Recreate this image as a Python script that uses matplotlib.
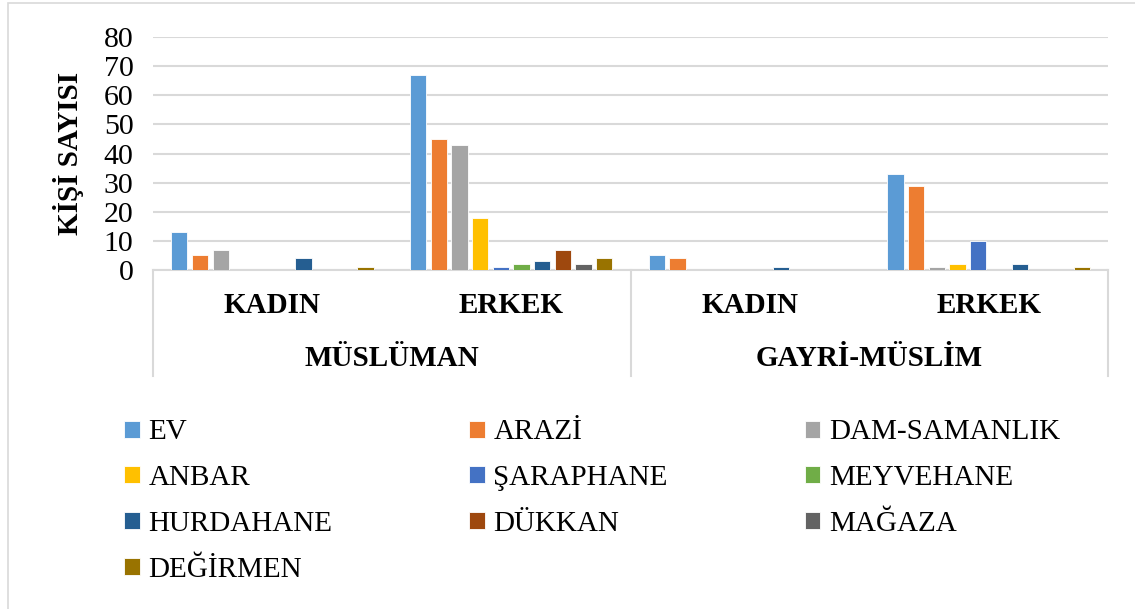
import matplotlib
matplotlib.use("Agg")
import matplotlib.pyplot as plt
import matplotlib.transforms as mtransforms
from matplotlib.patches import Rectangle
import numpy as np

plt.rcParams['font.family'] = ['Liberation Serif', 'DejaVu Serif']

series = ["EV", "ARAZİ", "DAM-SAMANLIK", "ANBAR", "ŞARAPHANE", "MEYVEHANE",
          "HURDAHANE", "DÜKKAN", "MAĞAZA", "DEĞİRMEN"]
colors = ["#5B9BD5", "#ED7D31", "#A5A5A5", "#FFC000", "#4472C4", "#70AD47",
          "#255E91", "#9E480E", "#636363", "#997300"]
genders = ["KADIN", "ERKEK", "KADIN", "ERKEK"]
religions = ["MÜSLÜMAN", "GAYRİ-MÜSLİM"]

# values per category (Müslüman Kadın, Müslüman Erkek, Gayri Kadın, Gayri Erkek)
EV = [13, 67, 5, 33]
ARAZI = [5, 45, 4, 29]
DAM_SAMANLIK = [7, 43, 0, 1]
ANBAR = [0, 18, 0, 2]
SARAPHANE = [0, 1, 0, 10]
MEYVEHANE = [0, 2, 0, 0]
HURDAHANE = [4, 3, 1, 2]
DUKKAN = [0, 7, 0, 0]
MAGAZA = [0, 2, 0, 0]
DEGIRMEN = [1, 4, 0, 1]
values = [EV, ARAZI, DAM_SAMANLIK, ANBAR, SARAPHANE, MEYVEHANE,
          HURDAHANE, DUKKAN, MAGAZA, DEGIRMEN]

fig = plt.figure(figsize=(11.35, 6.09), dpi=100)
W, H = 1135, 609
ax = fig.add_axes([153 / W, 1 - 270 / H, (1108 - 153) / W, (270 - 37) / H])

x = np.arange(len(genders))
n = len(series)
slot = 0.0866
bw = 0.068
for i, (name, vals, c) in enumerate(zip(series, values, colors)):
    ax.bar(x + (i - (n - 1) / 2) * slot, vals, width=bw, color=c,
           edgecolor="white", linewidth=0.6, label=name, zorder=3)

ax.set_xlim(-0.5, 3.5)
ax.set_ylim(0, 80)
ax.set_yticks(np.arange(0, 81, 10))
ax.yaxis.grid(True, color="#D9D9D9", linewidth=1.5, zorder=0)
ax.set_axisbelow(True)
for s in ["left", "right", "top"]:
    ax.spines[s].set_visible(False)
ax.spines["bottom"].set_color("#D9D9D9")
ax.spines["bottom"].set_linewidth(1.5)
ax.tick_params(axis="y", length=0, labelsize=21.5, pad=14)
ax.tick_params(axis="x", length=0)
ax.set_xticks(x)
ax.set_xticklabels(genders, fontsize=21, fontweight="bold")
ax.tick_params(axis="x", pad=16)
ax.set_ylabel("KİŞİ SAYISI", fontsize=21, fontweight="bold", labelpad=14)

trans = mtransforms.blended_transform_factory(ax.transData, ax.transAxes)
low = -(376 - 270) / (270 - 37)
for xv in [-0.5, 1.5, 3.5]:
    ax.plot([xv, xv], [0, low], transform=trans, color="#D9D9D9",
            linewidth=1.5, clip_on=False)
for k, r in enumerate(religions):
    ax.text(2 * k + 0.5, -(358 - 270) / (270 - 37), r, transform=trans,
            ha="center", va="center", fontsize=21, fontweight="bold")

handles, labels = ax.get_legend_handles_labels()
order = [0, 3, 6, 9, 1, 4, 7, 2, 5, 8]
fig.legend([handles[i] for i in order], [labels[i] for i in order], ncol=3,
           loc="upper left", bbox_to_anchor=(104 / W, 1 - 399 / H),
           frameon=False, fontsize=21, handlelength=0.52, handleheight=0.52,
           handletextpad=0.3, columnspacing=4.7, labelspacing=0.68,
           borderpad=0.2)

fig.add_artist(Rectangle((8 / W, -0.1), 1.2, 1 - 3 / H + 0.1,
                         transform=fig.transFigure, fill=False,
                         edgecolor="#D9D9D9", linewidth=1.2))

fig.savefig("out.png", dpi=100)
